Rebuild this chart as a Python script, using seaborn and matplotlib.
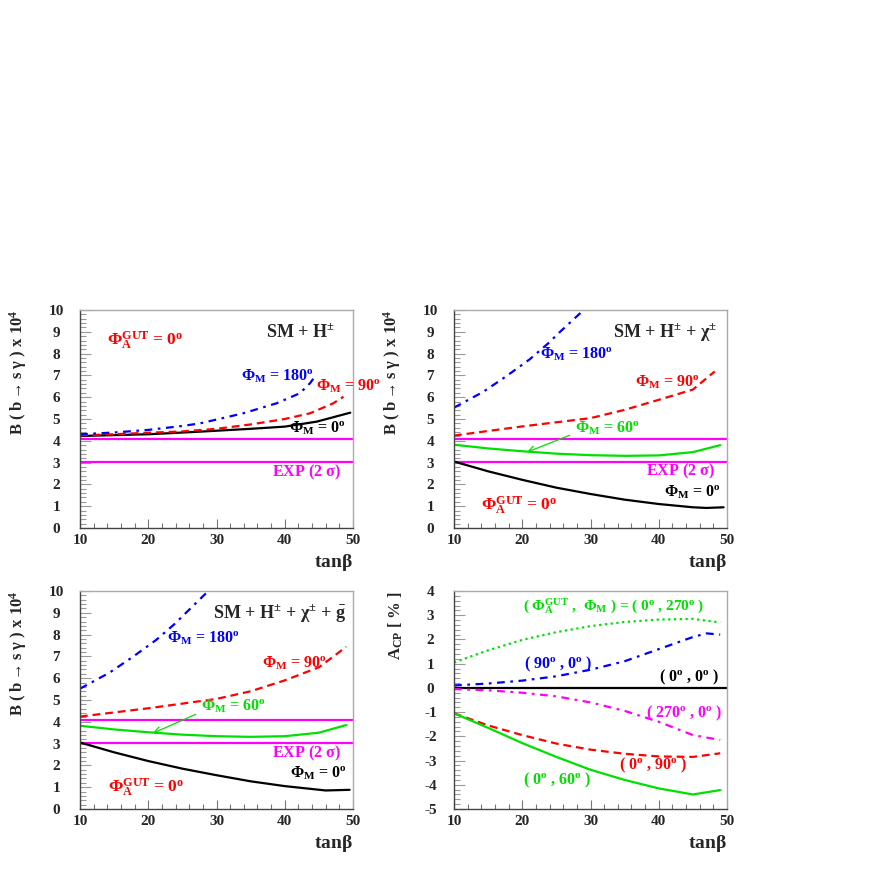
import numpy as np
import pandas as pd
import matplotlib
matplotlib.use("Agg")
import matplotlib.pyplot as plt
from matplotlib.ticker import MultipleLocator
import seaborn as sns

# ---------------- data ----------------
# Panel 1: SM + H+-
p1_tb_0 = [10, 20, 27.6, 35, 40, 44.7, 49.6]
p1_br_0 = [4.22, 4.30, 4.42, 4.55, 4.65, 4.88, 5.29]
p1_tb_90 = [10, 15, 20, 25, 30, 35, 40, 43.7, 47.1, 48.6]
p1_br_90 = [4.25, 4.30, 4.37, 4.43, 4.55, 4.75, 5.00, 5.26, 5.72, 6.02]
p1_tb_180 = [10, 15, 20, 25, 27.6, 33.9, 38.8, 42.2, 43.7, 44.4]
p1_br_180 = [4.30, 4.38, 4.50, 4.68, 4.80, 5.26, 5.72, 6.18, 6.64, 6.94]

# Panel 2: SM + H+- + chi+-
p2_tb_180 = [10, 14.3, 17.7, 21.1, 23.8, 25.3, 29.0]
p2_br_180 = [5.52, 6.25, 6.97, 7.74, 8.47, 8.93, 10.0]
p2_tb_90 = [10, 20, 30, 35, 40, 45, 48.2]
p2_br_90 = [4.24, 4.66, 5.04, 5.42, 5.88, 6.35, 7.18]
p2_tb_60 = [10, 15, 20, 25, 30, 35, 40, 45, 49]
p2_br_60 = [3.82, 3.65, 3.52, 3.41, 3.34, 3.31, 3.33, 3.48, 3.80]
p2_tb_0 = [10, 15, 20, 25, 30, 35, 40, 45, 47, 49.5]
p2_br_0 = [3.05, 2.60, 2.21, 1.85, 1.56, 1.30, 1.10, 0.95, 0.92, 0.95]

# Panel 3: SM + H+- + chi+- + gluino
p3_tb_180 = [10, 14.3, 17.7, 21.1, 23.8, 25.3, 28.8]
p3_br_180 = [5.52, 6.25, 6.97, 7.74, 8.47, 8.93, 10.0]
p3_tb_90 = [10, 20, 30, 35, 40, 45, 48, 49]
p3_br_90 = [4.24, 4.62, 5.05, 5.40, 5.90, 6.50, 7.20, 7.45]
p3_tb_60 = [10, 15, 20, 25, 30, 35, 40, 45, 49]
p3_br_60 = [3.82, 3.65, 3.52, 3.41, 3.34, 3.31, 3.34, 3.50, 3.85]
p3_tb_0 = [10, 15, 20, 25, 30, 35, 40, 46, 49.5]
p3_br_0 = [3.05, 2.60, 2.20, 1.85, 1.55, 1.27, 1.05, 0.85, 0.88]

# Experimental 2-sigma band
exp_low = 3.03
exp_high = 4.07

# Panel 4: A_CP
p4_tb = [10, 15, 20, 25, 30, 35, 40, 45, 49]
acp_0_270 = [1.05, 1.55, 1.98, 2.30, 2.55, 2.72, 2.82, 2.85, 2.70]
p4_tb_b = [10, 15, 20, 25, 30, 35, 40, 45, 47, 49]
acp_90_0 = [0.10, 0.18, 0.30, 0.48, 0.75, 1.10, 1.60, 2.10, 2.25, 2.20]
acp_0_0 = [0, 0]
p4_tb_0 = [10, 50]
acp_270_0 = [-0.05, -0.10, -0.20, -0.35, -0.60, -0.95, -1.40, -1.95, -2.15]
acp_0_90 = [-1.05, -1.55, -1.95, -2.30, -2.55, -2.72, -2.83, -2.85, -2.70]
acp_0_60 = [-1.05, -1.65, -2.28, -2.85, -3.38, -3.80, -4.15, -4.40, -4.22]

xticks = [10, 20, 30, 40, 50]

# ---------------- style ----------------
sns.set_style("white")
plt.rcParams['font.family'] = ['Liberation Serif', 'DejaVu Serif']
plt.rcParams['font.weight'] = 'bold'
plt.rcParams['axes.unicode_minus'] = False
plt.rcParams['mathtext.fontset'] = 'custom'
plt.rcParams['mathtext.rm'] = 'Liberation Serif:bold'
plt.rcParams['mathtext.it'] = 'Liberation Serif:bold'
plt.rcParams['mathtext.bf'] = 'Liberation Serif:bold'
plt.rcParams['mathtext.sf'] = 'Liberation Serif:bold'
plt.rcParams['mathtext.default'] = 'rm'

RED = '#ff0000'
BLUE = '#0000ff'
GREEN = '#00e000'
MAG = '#ff00ff'
BLK = '#000000'

DASH = (0, (3.5, 2.2))
DASHDOT = (0, (3.5, 2.5, 1.2, 2.5))
DOT = (0, (1.0, 1.6))

fig = plt.figure(figsize=(8.72, 8.72), dpi=100)
W = 273 / 872
H = 218 / 872
pos = {
    1: [80 / 872, 1 - 528 / 872, W, H],
    2: [454 / 872, 1 - 528 / 872, W, H],
    3: [80 / 872, 1 - 809 / 872, W, H],
    4: [454 / 872, 1 - 809 / 872, W, H],
}


def style_axes(ax, ymin, ymax):
    ax.set_xlim(10, 50)
    ax.set_ylim(ymin, ymax)
    ax.xaxis.set_major_locator(MultipleLocator(10))
    ax.xaxis.set_minor_locator(MultipleLocator(2))
    ax.yaxis.set_major_locator(MultipleLocator(1))
    ax.yaxis.set_minor_locator(MultipleLocator(0.2))
    ax.tick_params(axis='x', which='major', direction='in', length=6.5, width=0.8,
                   color='#777777', labelsize=11, pad=4, bottom=True, top=False)
    ax.tick_params(axis='x', which='minor', direction='in', length=3.3, width=0.8,
                   color='#777777', bottom=True, top=False)
    ax.tick_params(axis='y', which='major', direction='in', length=8, width=0.8,
                   color='#999999', labelsize=11, pad=17, left=True, right=False)
    ax.tick_params(axis='y', which='minor', direction='in', length=4, width=0.8,
                   color='#999999', left=True, right=False)
    for s in ['left', 'bottom']:
        ax.spines[s].set_color('#444444')
        ax.spines[s].set_linewidth(1.0)
    for s in ['top', 'right']:
        ax.spines[s].set_color('#aaaaaa')
        ax.spines[s].set_linewidth(1.0)
    ax.set_xlabel(r"tan$\beta$", loc='right', fontsize=14, fontweight='bold', labelpad=4)


def finalize_ticks(ax):
    fig.canvas.draw()
    for lab in ax.get_yticklabels():
        lab.set_horizontalalignment('center')
        lab.set_fontweight('bold')
    for lab in ax.get_xticklabels():
        lab.set_fontweight('bold')


def line(ax, x, y, color, ls='-', lw=1.6):
    sns.lineplot(x=x, y=y, ax=ax, color=color, linestyle=ls, linewidth=lw,
                 sort=False, estimator=None)


def br_ylabel(ax):
    ax.set_ylabel(r"B ( b$\rightarrow$s $\gamma$ ) x 10$^4$", loc='top',
                  fontsize=12, fontweight='bold', labelpad=14)


def exp_lines(ax):
    ax.axhline(exp_high, color=MAG, lw=1.6)
    ax.axhline(exp_low, color=MAG, lw=1.6)


def gut_label(ax, x, y):
    ax.text(x, y, r"$\Phi_A^{GUT}$ = 0$^o$", color=RED, fontsize=12.5,
            fontweight='bold', ha='left', va='center')


# ---------------- Panel 1 ----------------
ax1 = fig.add_axes(pos[1])
exp_lines(ax1)
line(ax1, p1_tb_0, p1_br_0, BLK)
line(ax1, p1_tb_90, p1_br_90, RED, DASH)
line(ax1, p1_tb_180, p1_br_180, BLUE, DASHDOT)
style_axes(ax1, 0, 10)
br_ylabel(ax1)
gut_label(ax1, 13.9, 8.6)
ax1.text(47.3, 9.0, r"SM + H$^{\pm}$", fontsize=13, fontweight='bold', ha='right', va='center')
ax1.text(33.6, 6.95, r"$\Phi_M$ = 180$^o$", color=BLUE, fontsize=11.5, ha='left', va='center')
ax1.text(44.6, 6.5, r"$\Phi_M$ = 90$^o$", color=RED, fontsize=11.5, ha='left', va='center')
ax1.text(40.6, 4.6, r"$\Phi_M$ = 0$^o$", color=BLK, fontsize=11.5, ha='left', va='center')
ax1.text(43.2, 2.55, r"EXP (2 $\sigma$)", color=MAG, fontsize=11.5, ha='center', va='center')

# ---------------- Panel 2 ----------------
ax2 = fig.add_axes(pos[2])
exp_lines(ax2)
line(ax2, p2_tb_0, p2_br_0, BLK)
line(ax2, p2_tb_60, p2_br_60, GREEN)
line(ax2, p2_tb_90, p2_br_90, RED, DASH)
line(ax2, p2_tb_180, p2_br_180, BLUE, DASHDOT)
style_axes(ax2, 0, 10)
br_ylabel(ax2)
ax2.text(48.5, 9.0, r"SM + H$^{\pm}$ + $\chi^{\pm}$", fontsize=13, fontweight='bold', ha='right', va='center')
ax2.text(22.6, 7.95, r"$\Phi_M$ = 180$^o$", color=BLUE, fontsize=11.5, ha='left', va='center')
ax2.text(36.5, 6.7, r"$\Phi_M$ = 90$^o$", color=RED, fontsize=11.5, ha='left', va='center')
ax2.annotate(r"$\Phi_M$ = 60$^o$", xy=(20.7, 3.48), xytext=(27.8, 4.6),
             color=GREEN, fontsize=11.5, ha='left', va='center',
             arrowprops=dict(arrowstyle='->', color=GREEN, lw=0.9, shrinkA=2, shrinkB=0,
                             relpos=(0.0, 0.2)))
ax2.text(43.2, 2.6, r"EXP (2 $\sigma$)", color=MAG, fontsize=11.5, ha='center', va='center')
ax2.text(40.7, 1.65, r"$\Phi_M$ = 0$^o$", color=BLK, fontsize=11.5, ha='left', va='center')
gut_label(ax2, 14.0, 1.0)

# ---------------- Panel 3 ----------------
ax3 = fig.add_axes(pos[3])
exp_lines(ax3)
line(ax3, p3_tb_0, p3_br_0, BLK)
line(ax3, p3_tb_60, p3_br_60, GREEN)
line(ax3, p3_tb_90, p3_br_90, RED, DASH)
line(ax3, p3_tb_180, p3_br_180, BLUE, DASHDOT)
style_axes(ax3, 0, 10)
br_ylabel(ax3)
ax3.text(49.0, 9.0, r"SM + H$^{\pm}$ + $\chi^{\pm}$ + $\bar{g}$", fontsize=13, fontweight='bold',
         ha='right', va='center')
ax3.text(22.7, 7.83, r"$\Phi_M$ = 180$^o$", color=BLUE, fontsize=11.5, ha='left', va='center')
ax3.text(36.6, 6.69, r"$\Phi_M$ = 90$^o$", color=RED, fontsize=11.5, ha='left', va='center')
ax3.annotate(r"$\Phi_M$ = 60$^o$", xy=(20.7, 3.48), xytext=(27.8, 4.7),
             color=GREEN, fontsize=11.5, ha='left', va='center',
             arrowprops=dict(arrowstyle='->', color=GREEN, lw=0.9, shrinkA=2, shrinkB=0,
                             relpos=(0.0, 0.2)))
ax3.text(43.2, 2.56, r"EXP (2 $\sigma$)", color=MAG, fontsize=11.5, ha='center', va='center')
ax3.text(40.7, 1.65, r"$\Phi_M$ = 0$^o$", color=BLK, fontsize=11.5, ha='left', va='center')
gut_label(ax3, 14.1, 0.96)

# ---------------- Panel 4 ----------------
ax4 = fig.add_axes(pos[4])
line(ax4, p4_tb_0, acp_0_0, BLK)
line(ax4, p4_tb, acp_0_270, GREEN, DOT)
line(ax4, p4_tb_b, acp_90_0, BLUE, DASHDOT)
line(ax4, p4_tb, acp_270_0, MAG, DASHDOT)
line(ax4, p4_tb, acp_0_90, RED, DASH)
line(ax4, p4_tb, acp_0_60, GREEN)
style_axes(ax4, -5, 4)
ax4.set_ylabel(r"A$_{CP}$ [ % ]", loc='top', fontsize=12, fontweight='bold', labelpad=14)
ax4.text(20.1, 3.38, r"( $\Phi_A^{GUT}$ ,  $\Phi_M$ ) = ( 0$^o$ , 270$^o$ )", color=GREEN,
         fontsize=11, ha='left', va='center')
ax4.text(20.2, 0.95, r"( 90$^o$ , 0$^o$ )", color=BLUE, fontsize=11.5, ha='left', va='center')
ax4.text(40.1, 0.44, r"( 0$^o$ , 0$^o$ )", color=BLK, fontsize=11.5, ha='left', va='center')
ax4.text(38.2, -1.04, r"( 270$^o$ , 0$^o$ )", color=MAG, fontsize=11.5, ha='left', va='center')
ax4.text(34.2, -3.21, r"( 0$^o$ , 90$^o$ )", color=RED, fontsize=11.5, ha='left', va='center')
ax4.text(20.1, -3.83, r"( 0$^o$ , 60$^o$ )", color=GREEN, fontsize=11.5, ha='left', va='center')

for a in (ax1, ax2, ax3, ax4):
    finalize_ticks(a)

fig.savefig("out.png", dpi=100, facecolor='white')
